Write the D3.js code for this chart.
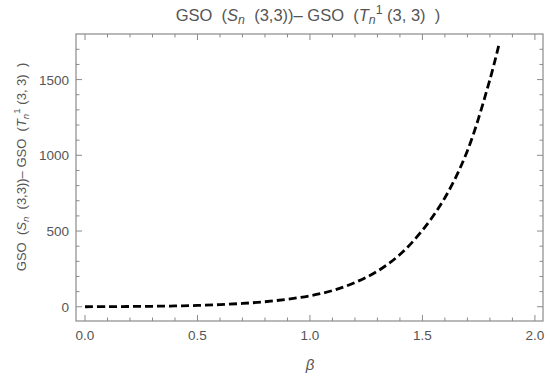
<!DOCTYPE html>
<html><head><meta charset="utf-8">
<script src="https://cdn.jsdelivr.net/npm/d3@7"></script>
<style>body{margin:0;background:#fff}</style>
</head><body>
<script>
const betaValues = [0, 0.1, 0.2, 0.3, 0.4, 0.5, 0.6, 0.7, 0.8, 0.9, 1.0, 1.1, 1.2, 1.3, 1.4, 1.5, 1.6, 1.7, 1.8, 1.84];
const gsoDiff   = [0, 0.8, 1.8, 3.2, 5.4, 9, 14, 22, 33, 50, 72, 107, 160, 235, 345, 505, 720, 1030, 1500, 1730];
const xTickLabels = [0, 0.5, 1.0, 1.5, 2.0];
const yTickLabels = [0, 500, 1000, 1500];

const W = 550, H = 380;
const m = {left: 76, right: 7, top: 34, bottom: 59};
const svg = d3.select("body").append("svg").attr("width", W).attr("height", H)
  .style("font-family", "'Liberation Sans', Arial, sans-serif");

const x = d3.scaleLinear().domain([-0.04, 2.036]).range([m.left, W - m.right]);
const y = d3.scaleLinear().domain([-94, 1801]).range([H - m.bottom, m.top]);

const frameColor = "#8a8a8a", textColor = "#555";
const x0 = m.left, x1 = W - m.right, y0 = H - m.bottom, y1 = m.top;

svg.append("rect").attr("x", x0).attr("y", y1).attr("width", x1 - x0).attr("height", y0 - y1)
  .attr("fill", "none").attr("stroke", frameColor).attr("stroke-width", 1.2);

const xMinor = d3.range(0, 20.01, 1).map(d => d / 10);
const yMinor = d3.range(0, 1800, 100);
const tg = svg.append("g").attr("stroke", frameColor).attr("stroke-width", 1);
xMinor.forEach(v => {
  const major = Math.abs(v * 2 - Math.round(v * 2)) < 1e-6;
  const L = major ? 6 : 3.5;
  tg.append("line").attr("x1", x(v)).attr("x2", x(v)).attr("y1", y0).attr("y2", y0 - L);
  tg.append("line").attr("x1", x(v)).attr("x2", x(v)).attr("y1", y1).attr("y2", y1 + L);
});
yMinor.forEach(v => {
  const major = v % 500 === 0;
  const L = major ? 6 : 3.5;
  tg.append("line").attr("y1", y(v)).attr("y2", y(v)).attr("x1", x0).attr("x2", x0 + L);
  tg.append("line").attr("y1", y(v)).attr("y2", y(v)).attr("x1", x1).attr("x2", x1 - L);
});

svg.append("g").selectAll("text").data(xTickLabels).join("text")
  .attr("x", d => x(d)).attr("y", 340).attr("text-anchor", "middle")
  .attr("font-size", 13.5).attr("fill", textColor).text(d => d3.format(".1f")(d));
svg.append("g").selectAll("text").data(yTickLabels).join("text")
  .attr("x", 69).attr("y", d => y(d) + 5).attr("text-anchor", "end")
  .attr("font-size", 13.5).attr("fill", textColor).text(d => d);

const pts = betaValues.map((b, i) => [b, gsoDiff[i]]);
svg.append("path").datum(pts)
  .attr("d", d3.line().x(d => x(d[0])).y(d => y(d[1])).curve(d3.curveCatmullRom.alpha(0.5)))
  .attr("fill", "none").attr("stroke", "#000").attr("stroke-width", 2.8)
  .attr("stroke-dasharray", "8,4");

function gsoLabel(t, sc) {
  t.append("tspan").text("GSO\u00a0\u00a0(");
  t.append("tspan").attr("font-style", "italic").text("S");
  t.append("tspan").attr("font-style", "italic").attr("font-size", "75%").attr("dy", 3 * sc).text("n");
  t.append("tspan").attr("dy", -3 * sc).text("\u00a0\u00a0(3,3))\u2013 GSO\u00a0\u00a0(");
  t.append("tspan").attr("font-style", "italic").text("T");
  t.append("tspan").attr("font-style", "italic").attr("font-size", "75%").attr("dy", 3 * sc).text("n");
  t.append("tspan").attr("font-size", "75%").attr("dy", -9 * sc).text("1");
  t.append("tspan").attr("dy", 6 * sc).text("\u00a0(3,\u00a03)\u00a0\u00a0)");
}
const title = svg.append("text").attr("x", 308).attr("y", 21).attr("text-anchor", "middle")
  .attr("font-size", 16.5).attr("fill", textColor);
gsoLabel(title, 1.15);

const ylab = svg.append("text").attr("transform", "translate(26,167) rotate(-90)")
  .attr("text-anchor", "middle").attr("font-size", 13).attr("fill", textColor);
gsoLabel(ylab, 0.95);

svg.append("text").attr("x", 310).attr("y", 370).attr("text-anchor", "middle")
  .attr("font-size", 15).attr("font-style", "italic").attr("fill", textColor).text("\u03b2");
</script>
</body></html>
